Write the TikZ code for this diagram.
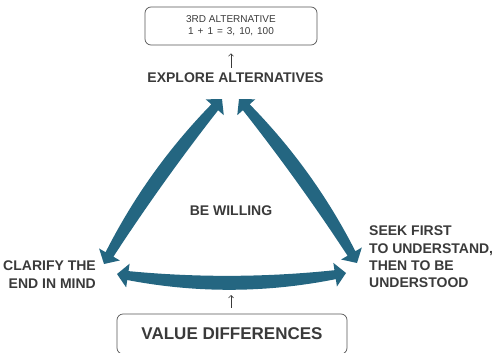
\documentclass[tikz,border=0pt]{standalone}
\usepackage{fontspec}
\setmainfont{Liberation Sans}
\usetikzlibrary{calc,arrows.meta}

\definecolor{bandblue}{RGB}{36,102,129}
\definecolor{ink}{RGB}{58,58,58}
\definecolor{framegray}{RGB}{85,85,85}

% Tapered, curved double-headed band arrow.
% #1 = first tip, #2 = quadratic control point of the centre line,
% #3 = second tip
\newcommand\bandarrow[3]{%
  \coordinate (ba-dir) at ($(#2)+(#3)-(#1)$);
  \coordinate (ba-a) at ($(#1)!11pt!(#2)$);
  \coordinate (ba-b) at ($(#3)!11pt!(#2)$);
  % shaft edges at both head bases
  \coordinate (ba-a1) at ($(ba-a)!4.5pt!-90:(#2)$);
  \coordinate (ba-a2) at ($(ba-a)!4.5pt!90:(#2)$);
  \coordinate (ba-b1) at ($(ba-b)!4.5pt!90:(#2)$);
  \coordinate (ba-b2) at ($(ba-b)!4.5pt!-90:(#2)$);
  % quadratic controls of the two edges
  \coordinate (ba-q1) at ($(#2)!9.5pt!-90:(ba-dir)$);
  \coordinate (ba-q2) at ($(#2)!9.5pt!90:(ba-dir)$);
  \fill[bandfill]
    (#1) -- ($(ba-a)!12pt!-90:(#2)$) -- (ba-a1)
    .. controls ($(ba-a1)!0.6667!(ba-q1)$) and ($(ba-b1)!0.6667!(ba-q1)$)
    .. (ba-b1)
    -- ($(ba-b)!12pt!90:(#2)$) -- (#3) -- ($(ba-b)!12pt!-90:(#2)$)
    -- (ba-b2)
    .. controls ($(ba-b2)!0.6667!(ba-q2)$) and ($(ba-a2)!0.6667!(ba-q2)$)
    .. (ba-a2)
    -- ($(ba-a)!12pt!90:(#2)$) -- cycle;
}

\begin{document}
\begin{tikzpicture}[x=1pt,y=-1pt,
  bandfill/.style={fill=bandblue},
  caption/.style={inner sep=0pt, text=ink,
    font=\fontsize{14}{17.3}\selectfont\bfseries},
  altbox/.style={draw=framegray, line width=0.7pt, rounded corners=6pt,
    minimum width=172pt, minimum height=38pt, inner sep=0pt, align=center,
    text=ink, font=\fontsize{10}{12}\selectfont},
  valbox/.style={draw=framegray, line width=0.7pt, rounded corners=6pt,
    minimum width=230pt, minimum height=40pt, inner sep=0pt,
    text=ink, font=\fontsize{17}{19}\selectfont\bfseries},
  pointer/.style={draw=ink, line width=0.6pt,
    -{Straight Barb[length=2.5pt,width=5pt]}}
]
\useasboundingbox (0,0) rectangle (495,353);
\clip (0,0) rectangle (495,353);

% boxes and captions
\node[altbox] (alt) at (231,26)
  {3RD ALTERNATIVE\\{\spaceskip=4pt 1 + 1 = 3, 10, 100}};
\node[caption] (explore) at (235.5,78) {EXPLORE ALTERNATIVES};
\node[caption] (willing) at (231,211) {BE WILLING};
\node[caption, anchor=east, align=right] (clarify) at (96,274.5)
  {CLARIFY THE\\END IN MIND};
\node[caption, anchor=west, align=left] (seek) at (369,257)
  {SEEK FIRST\\TO UNDERSTAND,\\THEN TO BE\\UNDERSTOOD};
\node[valbox] (values) at (232,334) {VALUE DIFFERENCES};

% small pointers
\draw[pointer, shorten <=5pt, shorten >=8pt]
  (alt.south |- explore.north) -- (alt.south);
\coordinate (bandbottom) at (231,295);
\draw[pointer, shorten <=6pt] (values.north -| bandbottom) -- (bandbottom);

% band arrows of the triangle
\coordinate (lb) at (104,264);
\coordinate (lc) at (154.9,175.6);
\coordinate (lt) at (222,99);
\coordinate (rt) at (239,99);
\coordinate (rc) at (306.1,175.2);
\coordinate (rb) at (357,263);
\coordinate (bl) at (117,274);
\coordinate (bc) at (231.5,290.5);
\coordinate (br) at (346,273);

\bandarrow{lb}{lc}{lt}
\bandarrow{rt}{rc}{rb}
\bandarrow{bl}{bc}{br}
\end{tikzpicture}
\end{document}
